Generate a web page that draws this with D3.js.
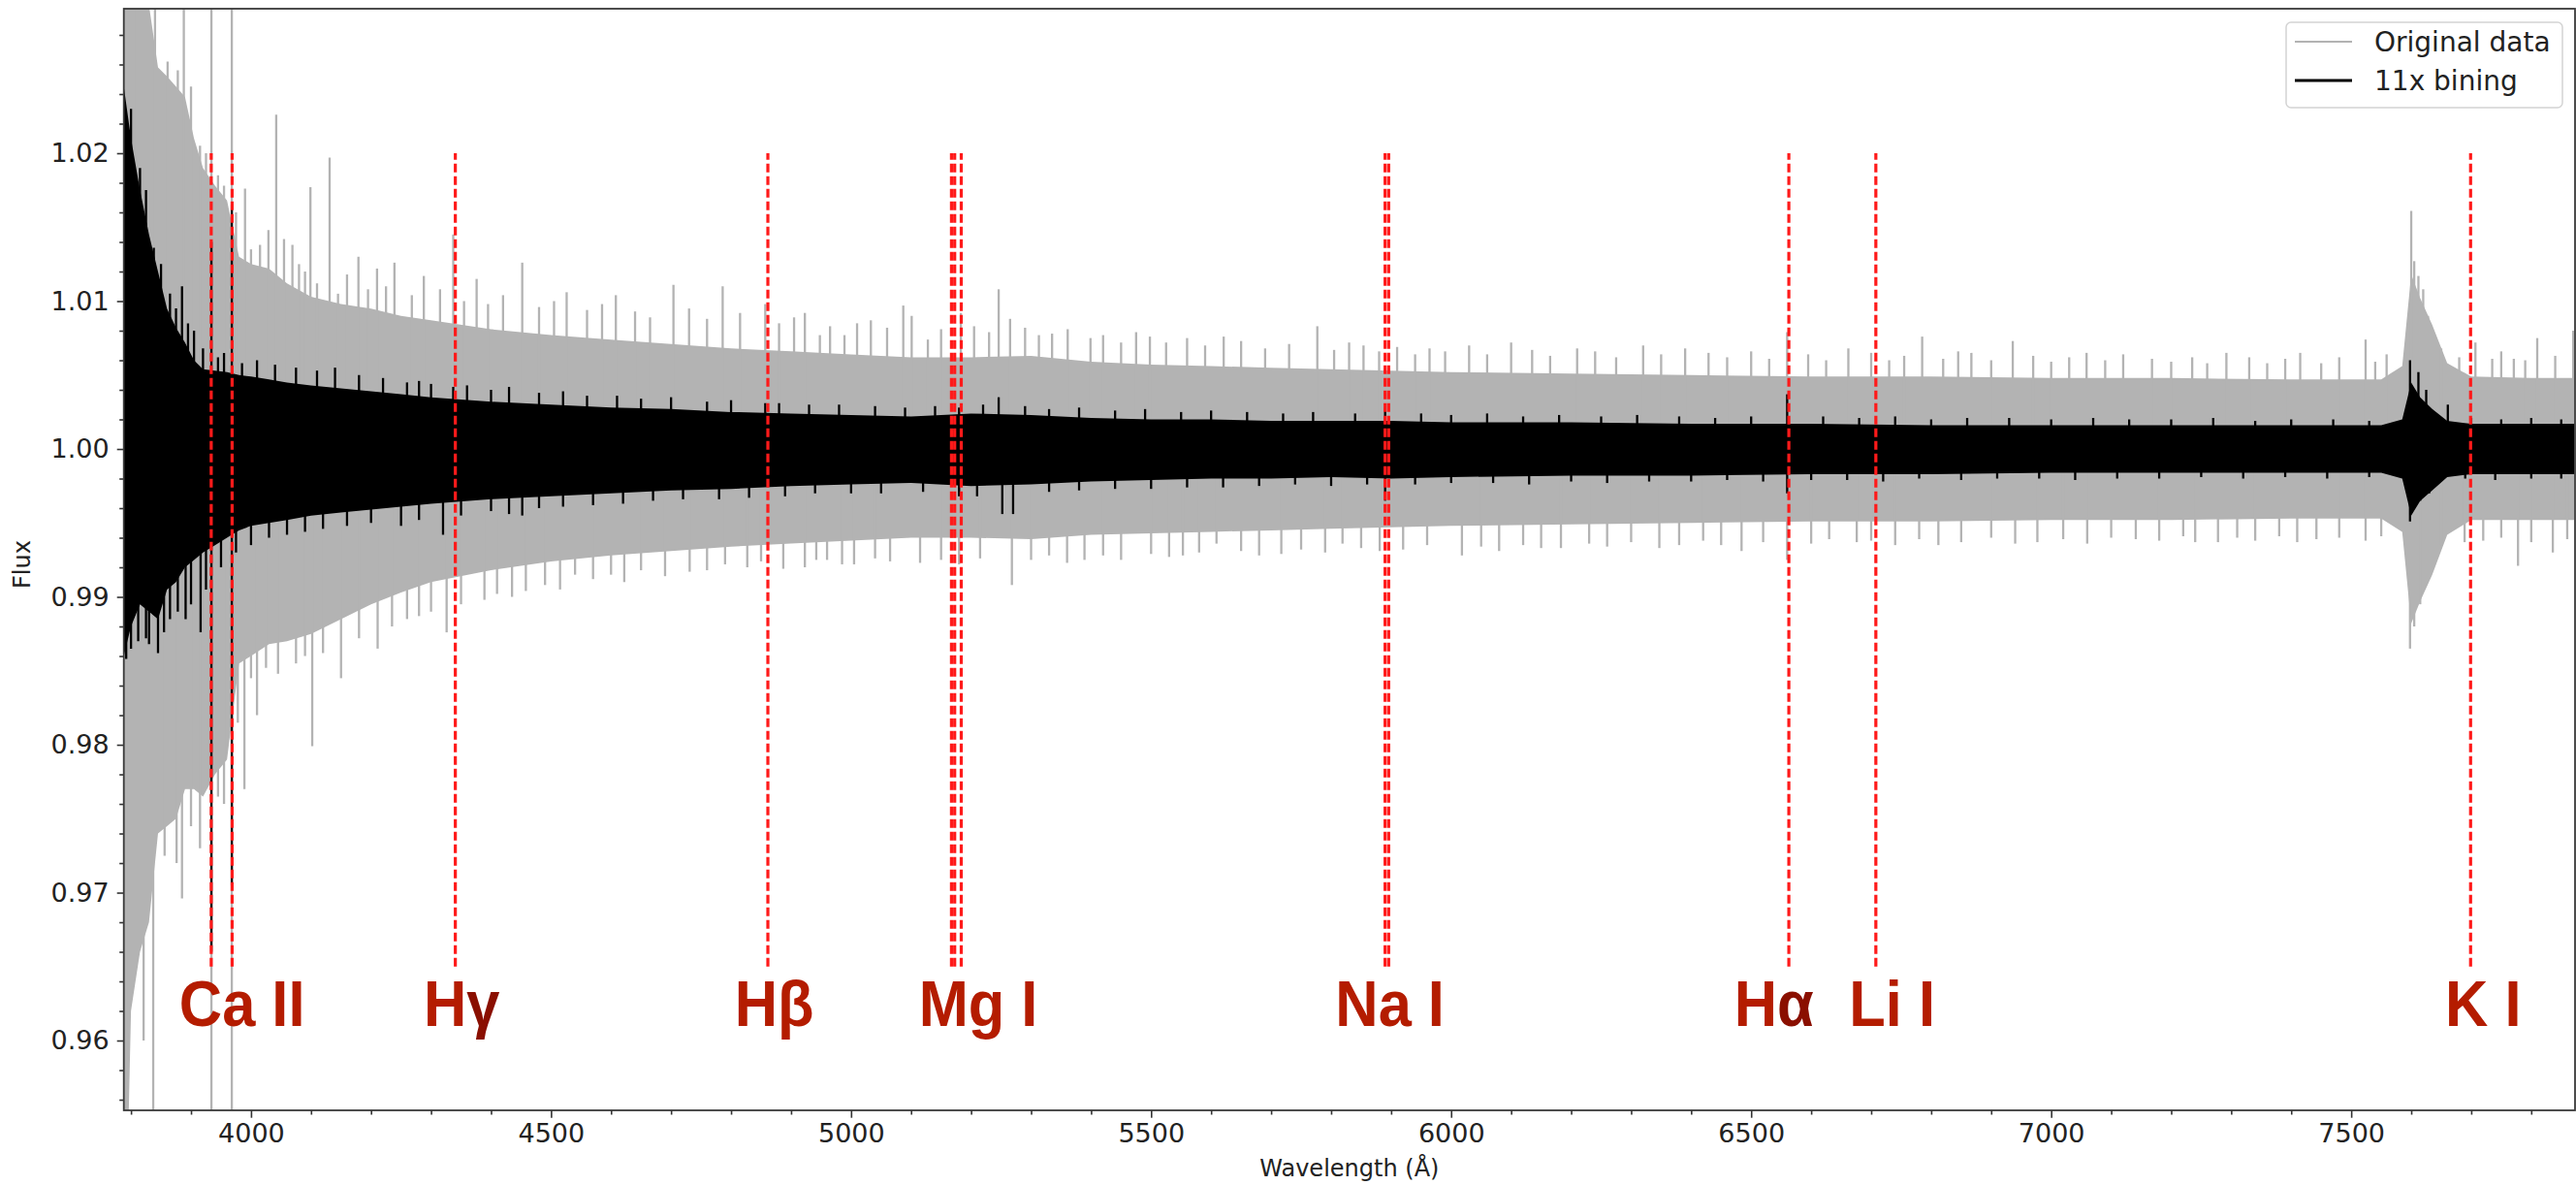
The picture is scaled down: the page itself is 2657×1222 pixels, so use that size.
<!DOCTYPE html>
<html>
<head>
<meta charset="utf-8">
<script src="https://cdn.jsdelivr.net/npm/d3@7"></script>
<style>
  html, body { margin: 0; padding: 0; background: #ffffff; }
  svg { display: block; }
</style>
</head>
<body>
<svg id="chart" width="2657" height="1222"></svg>
<script>
// Wavelength grid (Å) on which the dense edges of both traces are given
const gridWave = [3788,3800,3815,3830,3845,3860,3875,3890,3905,3920,
                  3940,3960,3980,4000,4030,4060,4100,4150,4200,4250,
                  4300,4400,4500,4600,4700,4800,4900,5000,5100,5200,
                  5300,5400,5500,5600,5700,5800,5900,6000,6200,6400,
                  6600,6800,7000,7200,7400,7550,7585,7600,7615,7635,
                  7660,7700,7800,7872];

// Original spectrum: upper / lower edge of the dense trace
const origUpper = [1.035,1.034,1.032,1.030,1.0258,1.0252,1.0245,1.0238,1.021,1.019,
                   1.0178,1.0168,1.013,1.0125,1.0122,1.0112,1.0103,1.0098,1.0095,1.009,
                   1.0087,1.0081,1.0077,1.0074,1.0071,1.0068,1.0066,1.0064,1.0062,1.0062,
                   1.0063,1.0059,1.0057,1.0056,1.0055,1.0054,1.0053,1.0052,1.0051,1.005,
                   1.0049,1.0049,1.0048,1.0048,1.0047,1.0047,1.0056,1.0118,1.0102,1.0084,
                   1.0058,1.0049,1.0048,1.0048];
const origLower = [0.94,0.962,0.966,0.968,0.974,0.9745,0.975,0.977,0.977,0.9765,
                   0.978,0.979,0.9855,0.986,0.9868,0.987,0.9875,0.9885,0.9895,0.9903,
                   0.991,0.9918,0.9924,0.9928,0.9931,0.9934,0.9936,0.9938,0.994,0.994,
                   0.9939,0.9942,0.9943,0.9944,0.9945,0.9946,0.9947,0.9948,0.9949,0.995,
                   0.9951,0.9951,0.9952,0.9952,0.9953,0.9953,0.9944,0.9882,0.9897,0.9915,
                   0.9942,0.9952,0.9952,0.9952];

// 11x binned spectrum: upper / lower edge of the dense trace
const binUpper = [1.0245,1.021,1.0175,1.0145,1.012,1.0095,1.0082,1.0072,1.006,1.0054,
                  1.0053,1.0052,1.005,1.0049,1.0047,1.0045,1.0043,1.0041,1.0039,1.0037,
                  1.0035,1.0032,1.003,1.0028,1.0027,1.0025,1.0024,1.0023,1.0022,1.0024,
                  1.0023,1.0021,1.002,1.002,1.0019,1.0019,1.0019,1.0018,1.0018,1.0017,
                  1.0017,1.0016,1.0016,1.0016,1.0016,1.0016,1.002,1.0045,1.0035,1.0027,
                  1.0019,1.0017,1.0017,1.0017];
const binLower = [0.986,0.988,0.9895,0.989,0.9885,0.9905,0.991,0.992,0.9925,0.993,
                  0.9935,0.994,0.9945,0.9948,0.995,0.9952,0.9955,0.9957,0.9959,0.9961,
                  0.9963,0.9966,0.9968,0.997,0.9972,0.9973,0.9975,0.9976,0.9977,0.9975,
                  0.9976,0.9978,0.9979,0.998,0.998,0.9981,0.998,0.9981,0.9982,0.9982,
                  0.9983,0.9983,0.9984,0.9984,0.9984,0.9984,0.998,0.9955,0.9965,0.9972,
                  0.9981,0.9983,0.9983,0.9983];

// Single pixels reaching beyond the dense edges: [wavelength, flux]
const origSpikesUp = [
  [3790,1.04],[3797,1.04],[3806,1.04],[3822,1.04],[3840,1.031],[3861,1.0262],[3878,1.0256],[3888,1.04],
  [3900,1.0245],[3915,1.0205],[3925,1.02],[3934,1.04],[3945,1.0185],[3955,1.0178],[3968,1.04],[3975,1.016],
  [3990,1.0176],[4000,1.0135],[4015,1.0138],[4029,1.0148],[4042,1.0226],[4055,1.0142],[4069,1.0138],
  [4080,1.0125],[4090,1.012],[4099,1.0177],[4110,1.0112],[4131,1.0197],[4145,1.0105],[4160,1.0118],
  [4179,1.013],[4195,1.0108],[4210,1.0122],[4225,1.011],[4239,1.0126],[4268,1.0104],[4288,1.0117],
  [4315,1.0108],[4337,1.0145],[4355,1.01],[4376,1.0115],[4395,1.0098],[4420,1.0104],[4452,1.0126],
  [4480,1.0096],[4505,1.01],[4526,1.0106],[4560,1.0094],[4585,1.0098],[4608,1.0104],[4640,1.0093],
  [4665,1.0089],[4704,1.0111],[4730,1.0095],[4760,1.0088],[4786,1.011],[4815,1.0092],[4857,1.0098],
  [4880,1.0085],[4905,1.0089],[4923,1.0092],[4948,1.0077],[4965,1.0083],[4989,1.0077],[5010,1.0085],
  [5033,1.0087],[5060,1.0082],[5087,1.0097],[5101,1.009],[5128,1.0074],[5150,1.0081],[5183,1.0092],
  [5205,1.0083],[5230,1.0079],[5246,1.0108],[5265,1.0088],[5290,1.0082],[5313,1.0077],[5335,1.0078],
  [5361,1.0081],[5399,1.0075],[5420,1.0077],[5450,1.0072],[5475,1.0079],[5498,1.0076],[5525,1.0072],
  [5560,1.0075],[5590,1.007],[5621,1.0076],[5650,1.0073],[5690,1.0068],[5730,1.0071],[5777,1.0083],
  [5805,1.0067],[5830,1.0072],[5854,1.007],[5880,1.0066],[5910,1.0069],[5940,1.0064],[5964,1.0068],
  [5990,1.0066],[6030,1.007],[6060,1.0064],[6100,1.0072],[6135,1.0067],[6165,1.0063],[6210,1.0068],
  [6240,1.0066],[6275,1.0062],[6320,1.007],[6350,1.0064],[6390,1.0068],[6429,1.0065],[6460,1.0062],
  [6500,1.0066],[6530,1.0061],[6560,1.0079],[6595,1.0064],[6625,1.006],[6662,1.0068],[6700,1.0065],
  [6730,1.006],[6755,1.0063],[6785,1.0076],[6820,1.0061],[6845,1.0066],[6867,1.0065],[6900,1.006],
  [6936,1.0073],[6970,1.0063],[7000,1.0059],[7030,1.0062],[7059,1.0065],[7090,1.006],[7120,1.0064],
  [7168,1.0061],[7200,1.0059],[7235,1.0062],[7260,1.0058],[7292,1.0065],[7330,1.0062],[7360,1.0058],
  [7390,1.0061],[7415,1.0065],[7450,1.0058],[7480,1.0062],[7524,1.0074],[7540,1.0059],[7559,1.0064],
  [7600,1.0161],[7605,1.0127],[7612,1.0117],[7620,1.0108],[7628,1.009],[7650,1.0068],[7680,1.0062],
  [7707,1.0072],[7735,1.0061],[7750,1.0066],[7771,1.0061],[7790,1.006],[7810,1.0075],[7840,1.0063],
  [7870,1.008]
];
const origSpikesDown = [
  [3792,0.94],[3821,0.96],[3837,0.94],[3856,0.9725],[3876,0.972],[3885,0.9696],[3900,0.9745],[3915,0.973],
  [3934,0.94],[3945,0.9765],[3955,0.976],[3968,0.94],[3978,0.9815],[3989,0.977],[4000,0.9845],[4010,0.982],
  [4025,0.9852],[4045,0.9848],[4075,0.9855],[4090,0.986],[4102,0.9799],[4120,0.9862],[4150,0.9845],
  [4180,0.9872],[4211,0.9865],[4235,0.988],[4260,0.9885],[4280,0.9887],[4300,0.989],[4326,0.9876],
  [4350,0.9895],[4389,0.9898],[4410,0.9902],[4435,0.99],[4458,0.9904],[4490,0.9908],[4515,0.9905],
  [4540,0.9915],[4570,0.9912],[4600,0.9915],[4622,0.991],[4650,0.9918],[4690,0.9914],[4731,0.9917],
  [4760,0.9918],[4790,0.9922],[4827,0.992],[4850,0.9924],[4887,0.9919],[4923,0.992],[4942,0.9925],
  [4960,0.9925],[4985,0.9922],[5005,0.9922],[5040,0.9926],[5065,0.9924],[5115,0.9923],[5150,0.9925],
  [5180,0.9922],[5215,0.9926],[5268,0.9908],[5300,0.9925],[5330,0.9928],[5360,0.9923],[5389,0.9925],
  [5420,0.9928],[5450,0.9925],[5500,0.9929],[5530,0.9927],[5553,0.9928],[5580,0.993],[5609,0.9936],
  [5650,0.9931],[5680,0.9928],[5717,0.9929],[5750,0.9932],[5790,0.993],[5819,0.9936],[5850,0.9933],
  [5881,0.9931],[5920,0.9932],[5960,0.9935],[6018,0.9928],[6050,0.9934],[6080,0.9931],[6120,0.9935],
  [6150,0.9933],[6183,0.9933],[6230,0.9936],[6260,0.9934],[6300,0.9937],[6347,0.9933],[6380,0.9935],
  [6420,0.9938],[6450,0.9935],[6484,0.9931],[6520,0.9937],[6560,0.9925],[6600,0.9936],[6630,0.9939],
  [6676,0.9937],[6700,0.9938],[6740,0.9935],[6780,0.9939],[6812,0.9935],[6850,0.9937],[6900,0.994],
  [6940,0.9936],[6977,0.9937],[7020,0.9939],[7060,0.9936],[7100,0.994],[7141,0.9939],[7180,0.9938],
  [7220,0.9941],[7240,0.9937],[7278,0.9937],[7310,0.994],[7340,0.9938],[7380,0.9941],[7410,0.9937],
  [7442,0.9939],[7480,0.994],[7524,0.9938],[7550,0.9941],[7598,0.9865],[7605,0.988],[7615,0.9895],
  [7625,0.991],[7650,0.9935],[7689,0.9937],[7720,0.9938],[7750,0.994],[7778,0.9921],[7800,0.9937],
  [7836,0.993],[7860,0.9939]
];
const binSpikesUp = [
  [3800,1.023],[3815,1.019],[3825,1.0175],[3838,1.0136],[3850,1.0125],[3865,1.0105],[3875,1.0095],
  [3885,1.011],[3895,1.0085],[3905,1.008],[3920,1.0068],[3934,1.014],[3945,1.0062],[3955,1.0065],
  [3968,1.0165],[3985,1.0058],[4010,1.006],[4040,1.0057],[4075,1.0055],[4110,1.0053],[4140,1.0055],
  [4180,1.005],[4220,1.0048],[4260,1.0045],[4280,1.0046],[4300,1.0044],[4337,1.0042],[4360,1.0043],
  [4400,1.004],[4430,1.0042],[4480,1.0038],[4520,1.0039],[4560,1.0036],[4610,1.0036],[4650,1.0034],
  [4700,1.0035],[4760,1.0032],[4800,1.0033],[4857,1.0031],[4880,1.0031],[4930,1.003],[4980,1.003],
  [5040,1.0029],[5090,1.0028],[5140,1.0029],[5180,1.0028],[5220,1.003],[5246,1.0035],[5290,1.0029],
  [5330,1.0027],[5380,1.0028],[5440,1.0026],[5490,1.0027],[5550,1.0025],[5600,1.0026],[5660,1.0025],
  [5720,1.0024],[5770,1.0025],[5840,1.0024],[5890,1.0028],[5950,1.0024],[6000,1.0023],[6060,1.0024],
  [6120,1.0022],[6180,1.0023],[6250,1.0022],[6310,1.0023],[6380,1.0022],[6440,1.0021],[6500,1.0022],
  [6560,1.0037],[6620,1.0022],[6680,1.0021],[6740,1.0022],[6800,1.002],[6860,1.0021],[6930,1.0021],
  [7000,1.002],[7070,1.0021],[7130,1.002],[7200,1.002],[7270,1.0021],[7340,1.0019],[7400,1.002],
  [7470,1.002],[7530,1.0019],[7598,1.006],[7612,1.0052],[7625,1.004],[7661,1.003],[7700,1.0021],
  [7750,1.002],[7800,1.0021],[7850,1.002]
];
const binSpikesDown = [
  [3792,0.9858],[3800,0.9865],[3812,0.987],[3825,0.9872],[3830,0.9868],[3845,0.9862],[3855,0.9876],
  [3865,0.9885],[3878,0.989],[3891,0.9885],[3900,0.9895],[3916,0.9876],[3925,0.9905],[3934,0.966],
  [3950,0.992],[3968,0.9705],[3975,0.993],[4000,0.9935],[4030,0.994],[4060,0.9942],[4090,0.9944],
  [4120,0.9946],[4160,0.9948],[4200,0.995],[4250,0.9948],[4280,0.9952],[4320,0.9942],[4350,0.9955],
  [4400,0.9958],[4430,0.9956],[4452,0.9955],[4480,0.996],[4520,0.9961],[4570,0.9962],[4620,0.9963],
  [4670,0.9965],[4720,0.9966],[4780,0.9966],[4830,0.9967],[4890,0.9968],[4940,0.997],[5000,0.997],
  [5050,0.997],[5120,0.9971],[5180,0.9968],[5210,0.9968],[5252,0.9956],[5270,0.9956],[5330,0.9971],
  [5380,0.9972],[5440,0.9973],[5500,0.9973],[5560,0.9974],[5620,0.9974],[5680,0.9975],[5740,0.9976],
  [5800,0.9975],[5860,0.9976],[5890,0.9965],[5940,0.9976],[6000,0.9977],[6070,0.9977],[6130,0.9976],
  [6200,0.9978],[6260,0.9977],[6330,0.9978],[6400,0.9978],[6460,0.9979],[6520,0.9978],[6560,0.997],
  [6600,0.9979],[6660,0.9979],[6720,0.9978],[6780,0.998],[6850,0.9979],[6910,0.998],[6980,0.998],
  [7040,0.9979],[7110,0.998],[7180,0.998],[7250,0.9981],[7320,0.998],[7390,0.9981],[7460,0.998],
  [7530,0.9981],[7598,0.9951],[7605,0.996],[7615,0.9965],[7630,0.997],[7690,0.998],[7740,0.9979],
  [7800,0.998],[7850,0.998]
];

// Marked spectral lines (Å) and their labels
const lineWave = [3933.66,3968.47,4340.47,4861.33,5167.32,5172.68,5183.60,5889.95,5895.92,6562.80,6707.80,7698.96];
const lineFluxRange = [0.965, 1.02];
const labelText = ["Ca II","Hγ","Hβ","Mg I","Na I","Hα","Li I","K I"];
const labelWave = [3985,4351,4872,5212,5898,6538,6735,7720];
const labelFlux = 0.961;

// Axes
const xDomain = [3788, 7873];
const yDomain = [0.95528, 1.02977];
const xTicks = [4000,4500,5000,5500,6000,6500,7000,7500];
const yTicks = [0.96,0.97,0.98,0.99,1.00,1.01,1.02];
const legendNames = ["Original data", "11x bining"];

const W = 2657, H = 1222;
const margin = { left: 127.7, right: 1, top: 9, bottom: 77 };
const plotW = W - margin.left - margin.right;
const plotH = H - margin.top - margin.bottom;

const GRAY = "#b3b3b3", BLACK = "#000000", RED = "#ff1a1a", LABEL = "#b41c00", LABEL_DARK = "#8a0f00";

const svg = d3.select("#chart");
const x = d3.scaleLinear().domain(xDomain).range([0, plotW]);
const y = d3.scaleLinear().domain(yDomain).range([plotH, 0]);

svg.append("defs").append("clipPath").attr("id", "plotClip")
  .append("rect").attr("width", plotW).attr("height", plotH);

const g = svg.append("g").attr("transform", `translate(${margin.left},${margin.top})`);
const data = g.append("g").attr("clip-path", "url(#plotClip)");

function band(upper, lower) {
  return d3.area()
    .x((d, i) => x(gridWave[i]))
    .y0((d, i) => y(lower[i]))
    .y1((d, i) => y(upper[i]))(gridWave);
}
function drawSpikes(sel, spikes, color, width) {
  sel.selectAll(null).data(spikes).join("line")
    .attr("x1", d => x(d[0])).attr("x2", d => x(d[0]))
    .attr("y1", y(1.0)).attr("y2", d => y(d[1]))
    .attr("stroke", color).attr("stroke-width", width);
}

// original data
data.append("path").attr("d", band(origUpper, origLower)).attr("fill", GRAY);
drawSpikes(data.append("g"), origSpikesUp.concat(origSpikesDown), GRAY, 2.3);

// binned data
data.append("path").attr("d", band(binUpper, binLower)).attr("fill", BLACK);
drawSpikes(data.append("g"), binSpikesUp.concat(binSpikesDown), BLACK, 2.3);

// line markers
data.append("g").selectAll("line").data(lineWave).join("line")
  .attr("x1", d => x(d)).attr("x2", d => x(d))
  .attr("y1", y(lineFluxRange[0])).attr("y2", y(lineFluxRange[1]))
  .attr("stroke", RED).attr("stroke-width", 3.2)
  .attr("stroke-dasharray", "9,4");

// line labels
const labels = g.append("g")
  .attr("font-family", "'Liberation Sans', Arial, sans-serif")
  .attr("font-weight", "bold").attr("font-size", 66).attr("fill", LABEL);
labelText.forEach((t, i) => {
  const txt = labels.append("text")
    .attr("text-anchor", "middle")
    .attr("transform", `translate(${x(labelWave[i])},${y(labelFlux)}) scale(0.93,1)`);
  for (const ch of t) {
    txt.append("tspan").text(ch).attr("fill", (ch === "γ" || ch === "α") ? LABEL_DARK : null);
  }
});

// axes
const font = "'DejaVu Sans', sans-serif";
const xAxis = g.append("g").attr("transform", `translate(0,${plotH})`)
  .call(d3.axisBottom(x).tickValues(xTicks).tickFormat(d3.format("d")).tickSize(7.7).tickPadding(6));
const xMinor = g.append("g").attr("transform", `translate(0,${plotH})`)
  .call(d3.axisBottom(x).tickValues(d3.range(3800, 7900, 100).filter(v => v % 500 !== 0)).tickFormat("").tickSize(4.5));
const yAxis = g.append("g")
  .call(d3.axisLeft(y).tickValues(yTicks).tickFormat(d3.format(".2f")).tickSize(7).tickPadding(8));
const yMinor = g.append("g")
  .call(d3.axisLeft(y).tickValues(d3.range(0.956, 1.029, 0.002).filter(v => Math.abs(v * 100 - Math.round(v * 100)) > 1e-6)).tickFormat("").tickSize(4.5));

[xAxis, xMinor, yAxis, yMinor].forEach(a => {
  a.select(".domain").remove();
  a.selectAll("line").attr("stroke", "#333").attr("stroke-width", 1.6);
  a.selectAll("text").attr("font-family", font).attr("font-size", 27).attr("fill", "#222");
});

// frame
g.append("rect").attr("width", plotW).attr("height", plotH)
  .attr("fill", "none").attr("stroke", "#3a3a3a").attr("stroke-width", 1.8);

// axis titles
g.append("text").attr("x", plotW / 2).attr("y", 1213 - margin.top)
  .attr("text-anchor", "middle").attr("font-family", font).attr("font-size", 24).attr("fill", "#222")
  .text("Wavelength (Å)");
svg.append("text").attr("transform", `translate(31,${margin.top + plotH / 2 + 5}) rotate(-90)`)
  .attr("text-anchor", "middle").attr("font-family", font).attr("font-size", 24).attr("fill", "#222")
  .text("Flux");

// legend
const lg = g.append("g").attr("transform", `translate(${plotW - 285 - 13},14)`);
lg.append("rect").attr("width", 285).attr("height", 88).attr("rx", 5)
  .attr("fill", "#fff").attr("stroke", "#d4d4d4").attr("stroke-width", 1.5);
const legendColors = [GRAY, BLACK];
const legendWidths = [2.2, 3];
legendNames.forEach((name, i) => {
  const yy = 20 + i * 40;
  lg.append("line").attr("x1", 9).attr("x2", 68).attr("y1", yy).attr("y2", yy)
    .attr("stroke", legendColors[i]).attr("stroke-width", legendWidths[i]);
  lg.append("text").attr("x", 91).attr("y", yy + 10)
    .attr("font-family", font).attr("font-size", 28).attr("fill", "#222").text(name);
});
</script>
</body>
</html>
